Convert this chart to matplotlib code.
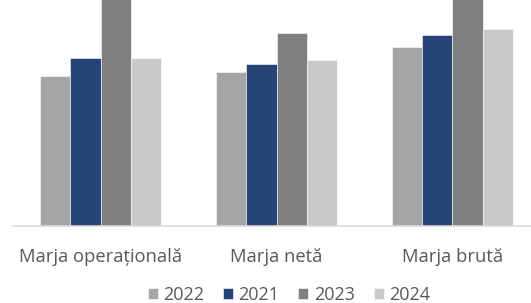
import matplotlib

matplotlib.use("Agg")
import matplotlib.pyplot as plt
import numpy as np

plt.rcParams["font.family"] = ["Open Sans", "DejaVu Sans"]

# data (arbitrary units; 2023 bars run past the top)
categories = ["Marja operațională", "Marja netă", "Marja brută"]
years = ["2022", "2021", "2023", "2024"]
v2022 = [15.0, 15.4, 17.9]
v2021 = [16.8, 16.2, 19.1]
v2023 = [27.0, 19.3, 26.0]
v2024 = [16.8, 16.6, 19.7]
colors = ["#a5a5a5", "#264478", "#7f7f7f", "#c9c9c9"]

series = [v2022, v2021, v2023, v2024]

fig = plt.figure(figsize=(5.31, 3.03), dpi=100)
ax = fig.add_axes([12.5 / 531, 77 / 303, 528 / 531, 226 / 303])

x = np.arange(len(categories))
w = 0.172
for i, (vals, lab, c) in enumerate(zip(series, years, colors)):
    ax.bar(x + (i - 1.5) * w, vals, w, color=c, label=lab,
           edgecolor="white", linewidth=0.4)

ax.set_xlim(-0.5, 2.5)
ax.set_ylim(0, 22.6)
ax.set_yticks([])
ax.set_xticks(x, categories)
ax.tick_params(axis="x", length=0, pad=16, labelsize=13.2, labelcolor="#595959")
for s in ["top", "left", "right"]:
    ax.spines[s].set_visible(False)
ax.spines["bottom"].set_color("#d9d9d9")
ax.spines["bottom"].set_linewidth(1.2)

fig.legend(loc="center", bbox_to_anchor=(289 / 531, 1 - 295 / 303), ncol=4,
           frameon=False, fontsize=13, labelcolor="#595959",
           handlelength=0.55, handleheight=0.55, handletextpad=0.3,
           columnspacing=1.05, borderpad=0)

fig.savefig("out.png", dpi=100)
